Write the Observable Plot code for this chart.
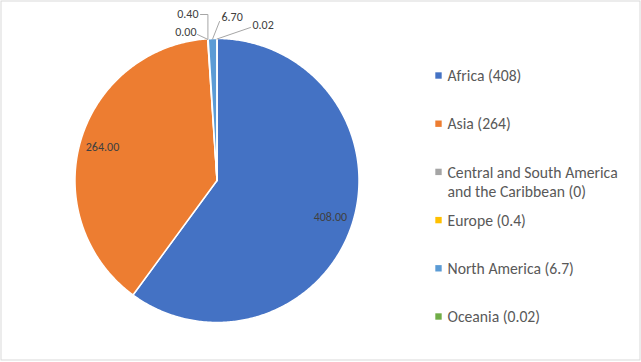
<!DOCTYPE html>
<html>
<head>
<meta charset="utf-8">
<script src="https://cdn.jsdelivr.net/npm/d3@7"></script>
<script src="https://cdn.jsdelivr.net/npm/@observablehq/plot@0.6"></script>
<style>
  html, body { margin: 0; padding: 0; background: #fff; }
  #chart svg { display: block; }
</style>
</head>
<body>
<div id="chart"></div>
<script>
// ---------- data ----------
const categories = ["Africa", "Asia", "Central and South America and the Caribbean", "Europe", "North America", "Oceania"];
const values = [408, 264, 0, 0.4, 6.7, 0.02];
const valueLabels = ["408.00", "264.00", "0.00", "0.40", "6.70", "0.02"];
const legendLabels = ["Africa (408)", "Asia (264)", "Central and South America\nand the Caribbean (0)", "Europe (0.4)", "North America (6.7)", "Oceania (0.02)"];
const colors = ["#4472C4", "#ED7D31", "#A5A5A5", "#FFC000", "#5B9BD5", "#70AD47"];

// ---------- layout ----------
const W = 641, H = 362;
const cx = 216.5, cy = 180, R = 142;
const insideFrac = 0.84;
const font = "Calibri, Carlito, Lato, sans-serif";
const labelSize = 12, legendSize = 15.7;
// outside label placement (layout, keyed by category)
const outside = {
  "Central and South America and the Caribbean": {x: 196, y: 32, anchor: "end", lx: 197, ly: 34, elbow: false},
  "Europe": {x: 198, y: 14, anchor: "end", lx: 200, ly: 14, elbow: true},
  "North America": {x: 221, y: 17, anchor: "start", lx: 219, ly: 21, elbow: false},
  "Oceania": {x: 252, y: 25, anchor: "start", lx: 250, ly: 27, elbow: false}
};
const legendX = 438, legendTextX = 447, legendY0 = 75, legendStep = 48.2;

// ---------- derived ----------
const data = categories.map((c, i) => ({category: c, value: values[i], label: valueLabels[i], legend: legendLabels[i]}));
const arcs = d3.pie().sort(null).value(d => d.value)(data);

const polys = [];
arcs.forEach(a => {
  if (a.endAngle - a.startAngle <= 0) return;
  const n = Math.max(2, Math.ceil((a.endAngle - a.startAngle) / 0.01));
  polys.push({category: a.data.category, x: cx, y: cy});
  for (let k = 0; k <= n; k++) {
    const t = a.startAngle + (a.endAngle - a.startAngle) * k / n;
    polys.push({category: a.data.category, x: cx + R * Math.sin(t), y: cy - R * Math.cos(t)});
  }
  polys.push({category: a.data.category, x: cx, y: cy});
});

const inside = [], outsideLabels = [], leaders = [];
arcs.forEach(a => {
  const m = (a.startAngle + a.endAngle) / 2;
  const o = outside[a.data.category];
  if (o) {
    outsideLabels.push({...o, text: a.data.label});
    const ax = cx + R * Math.sin(m), ay = cy - R * Math.cos(m);
    const pts = [{x: o.lx, y: o.ly}];
    if (o.elbow) pts.push({x: ax, y: o.ly});
    pts.push({x: ax, y: ay + 0.5});
    pts.forEach(p => leaders.push({...p, category: a.data.category}));
  } else {
    inside.push({x: cx + R * insideFrac * Math.sin(m), y: cy - R * insideFrac * Math.cos(m), text: a.data.label});
  }
});

const legendRows = data.map((d, i) => ({category: d.category, text: d.legend, x: legendX, tx: legendTextX, y: legendY0 + legendStep * i}));

const chart = Plot.plot({
  width: W, height: H,
  margin: 0,
  x: {domain: [0, W], range: [0, W], axis: null},
  y: {domain: [0, H], range: [0, H], axis: null},
  color: {domain: categories, range: colors},
  style: {fontFamily: font, background: "#fff"},
  marks: [
    Plot.rect([0], {x1: 1, x2: 640, y1: 1, y2: 360, fill: "none", stroke: "#d9d9d9", strokeWidth: 1}),
    Plot.line(polys, {x: "x", y: "y", z: "category", fill: "category", stroke: "#fff", strokeWidth: 1.5, strokeLinejoin: "round", curve: "linear"}),
    Plot.line(leaders, {x: "x", y: "y", z: "category", stroke: "#a6a6a6", strokeWidth: 1}),
    Plot.text(inside, {x: "x", y: "y", text: "text", fill: "#404040", fontSize: labelSize, textAnchor: "middle"}),
    Plot.text(outsideLabels.filter(d => d.anchor === "end"), {x: "x", y: "y", text: "text", textAnchor: "end", fill: "#404040", fontSize: labelSize}),
    Plot.text(outsideLabels.filter(d => d.anchor === "start"), {x: "x", y: "y", text: "text", textAnchor: "start", fill: "#404040", fontSize: labelSize}),
    Plot.dot(legendRows, {x: "x", y: "y", symbol: "square", r: 3.6, fill: "category", stroke: null}),
    Plot.text(legendRows, {x: "tx", y: d => d.y - legendSize * 0.5, text: "text", textAnchor: "start", lineAnchor: "top", lineHeight: 19 / legendSize, fill: "#595959", fontSize: legendSize})
  ]
});
document.getElementById("chart").appendChild(chart);
</script>
</body>
</html>
